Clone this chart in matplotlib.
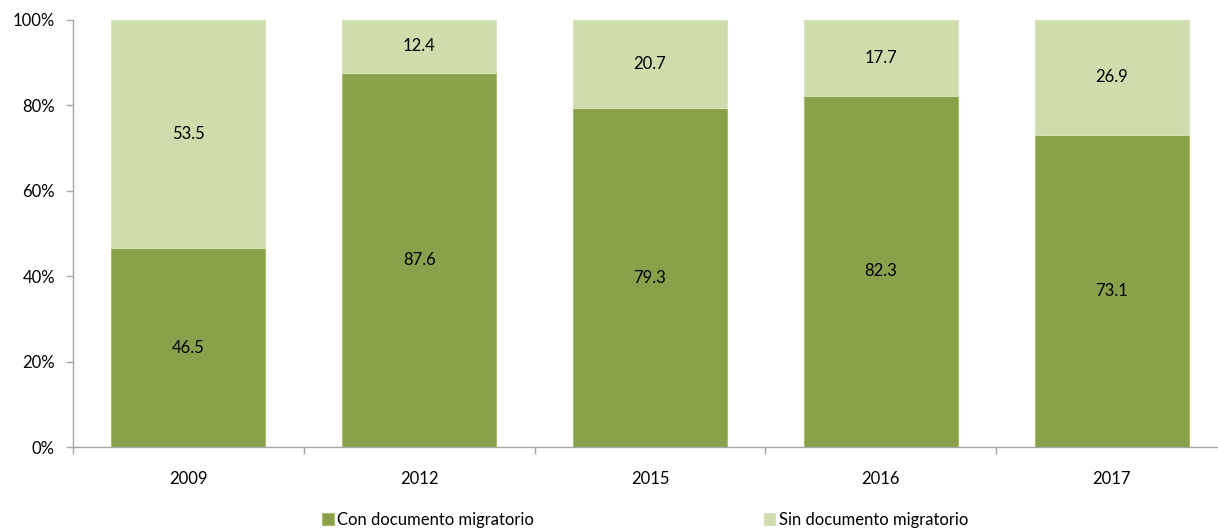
import matplotlib.pyplot as plt
import numpy as np

years = ['2009', '2012', '2015', '2016', '2017']
con_doc = [46.5, 87.6, 79.3, 82.3, 73.1]
sin_doc = [53.5, 12.4, 20.7, 17.7, 26.9]

dark = '#8AA14B'
light = '#CFDCAC'
axis_gray = '#A6A6A6'

plt.rcParams['font.family'] = ['Lato', 'DejaVu Sans']

fig = plt.figure(figsize=(12.18, 5.29), dpi=100)
# axis spans beyond the right edge like in the original export
ax = fig.add_axes([73 / 1218, 1 - 447 / 529, (1227 - 73) / 1218, (447 - 20) / 529])

x = np.arange(len(years))
b1 = ax.bar(x, con_doc, width=0.667, color=dark, edgecolor='#A9BE6A', linewidth=0.8,
            label='Con documento migratorio')
b2 = ax.bar(x, sin_doc, width=0.667, bottom=con_doc, color=light, edgecolor='#D8E3BC',
            linewidth=0.8, label='Sin documento migratorio')

for i in range(len(years)):
    ax.text(x[i], con_doc[i] / 2, f'{con_doc[i]:.1f}', ha='center', va='center', fontsize=12)
    ax.text(x[i], con_doc[i] + sin_doc[i] / 2, f'{sin_doc[i]:.1f}', ha='center', va='center',
            fontsize=12)

ax.set_xlim(-0.5, len(years) - 0.5)
ax.set_ylim(0, 100)
ax.set_yticks([0, 20, 40, 60, 80, 100])
ax.set_yticklabels([f'{v}%' for v in [0, 20, 40, 60, 80, 100]], fontsize=12)
ax.set_xticks(x)
ax.set_xticklabels(years, fontsize=12)
ax.tick_params(axis='x', length=0, pad=17)
ax.set_xticks(np.arange(len(years) + 1) - 0.5, minor=True)
ax.tick_params(axis='x', which='minor', length=5, color=axis_gray, width=1)
ax.tick_params(axis='y', length=5, color=axis_gray, width=1, pad=8)

for s in ['top', 'right']:
    ax.spines[s].set_visible(False)
for s in ['left', 'bottom']:
    ax.spines[s].set_color(axis_gray)
    ax.spines[s].set_linewidth(1)

fig.legend(handles=[b1, b2], loc='center', bbox_to_anchor=(645 / 1218, 1 - 520 / 529), ncol=2,
           frameon=False, fontsize=12, handlelength=0.7, handleheight=0.7, handletextpad=0.2,
           columnspacing=13.8)

fig.savefig('out.png', dpi=100)
